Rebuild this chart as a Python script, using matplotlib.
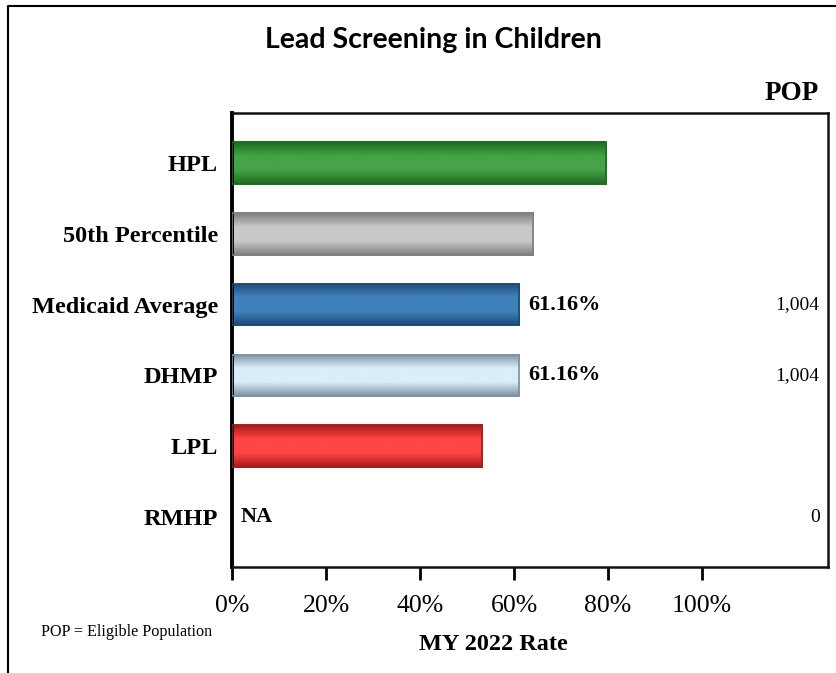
import numpy as np
import matplotlib
matplotlib.use("Agg")
import matplotlib.pyplot as plt
from matplotlib.colors import LinearSegmentedColormap
from matplotlib.lines import Line2D

categories = ["HPL", "50th Percentile", "Medicaid Average", "DHMP", "LPL", "RMHP"]
rates = [79.56, 64.05, 61.16, 61.16, 53.28, None]
rate_labels = [None, None, "61.16%", "61.16%", None, "NA"]
pop_labels = ["", "", "1,004", "1,004", "", "0"]
xticks = [0, 20, 40, 60, 80, 100]
xtick_labels = ["0%", "20%", "40%", "60%", "80%", "100%"]

# (edge/dark, center/light) colour pairs for gradient bars
bar_colors = [
    ("#1d6a22", "#45a447"),
    ("#7f7f7f", "#c9c9c9"),
    ("#1c4a78", "#4082bd"),
    ("#7d929f", "#d9eefb"),
    ("#a81a1a", "#ff4545"),
    ("#ffffff", "#ffffff"),
]

serif = ["Liberation Serif", "DejaVu Serif"]

fig = plt.figure(figsize=(8.37, 6.73), dpi=100)
ax = fig.add_axes([232/837, 1-567/673, (828-232)/837, (567-113)/673])

ypos = np.arange(len(categories))
bar_h = 0.59
for i, (cat, val) in enumerate(zip(categories, rates)):
    if val is None:
        continue
    dark, light = bar_colors[i]
    bars = ax.barh(i, val, height=bar_h, color=light, edgecolor=dark, linewidth=1.2, zorder=2)
    patch = bars[0]
    cmap = LinearSegmentedColormap.from_list("g", [dark, light, light, dark])
    grad = np.linspace(0, 1, 256).reshape(-1, 1)
    im = ax.imshow(grad, cmap=cmap, aspect="auto",
                   extent=[0, val, i + bar_h/2, i - bar_h/2], zorder=2.5,
                   interpolation="bicubic")
    im.set_clip_path(patch)
    ax.barh(i, val, height=bar_h, fill=False, edgecolor=dark, linewidth=1.2, zorder=3)

ax.set_xlim(0, 126.8)
ax.set_ylim(len(categories) - 1 + 0.7, -0.7)

# value labels
for i, lab in enumerate(rate_labels):
    if lab is None:
        continue
    x = rates[i] if rates[i] is not None else 0
    ax.text(x + 1.8, i, lab, ha="left", va="center", fontsize=16, fontweight="bold",
            family=serif, zorder=4)

# POP labels
for i, lab in enumerate(pop_labels):
    if lab:
        ax.text(125.0, i, lab, ha="right", va="center", fontsize=14, family=serif)
ax.text(124.8, -0.8, "POP", ha="right", va="bottom", fontsize=19.5, fontweight="bold",
        family=serif, clip_on=False)

ax.set_yticks(ypos)
ax.set_yticklabels(categories, fontsize=17.5, fontweight="bold", family=serif)
ax.tick_params(axis="y", length=0, pad=10)
ax.set_xticks(xticks)
ax.set_xticklabels(xtick_labels, fontsize=18.5, family=serif)
ax.tick_params(axis="x", direction="out", length=9, width=2, pad=11)
ax.set_xlabel("MY 2022 Rate", fontsize=17.5, fontweight="bold", family=serif)
ax.xaxis.set_label_coords((493-232)/596, -(645-567)/454)
ax.xaxis.label.set_va("center")

for s in ["top", "right", "bottom"]:
    ax.spines[s].set_linewidth(1.8)
    ax.spines[s].set_color("#111111")
ax.spines["left"].set_linewidth(2.8)
ax.spines["left"].set_color("black")

fig.text(0.5 * (268 + 598) / 837, 1 - 40/673, "Lead Screening in Children",
         ha="center", va="center", fontsize=20.5, fontweight="bold", family=["Lato", "DejaVu Sans"])
fig.text(41/837, 1 - 632/673, "POP = Eligible Population", ha="left", va="center",
         fontsize=11.6, family=serif)

# outer frame (left and top only)
fig.add_artist(Line2D([8/837, 8/837, 1.0], [0, 1-6/673, 1-6/673],
                      transform=fig.transFigure, color="black", linewidth=1.5))

fig.savefig("out.png", dpi=100)
